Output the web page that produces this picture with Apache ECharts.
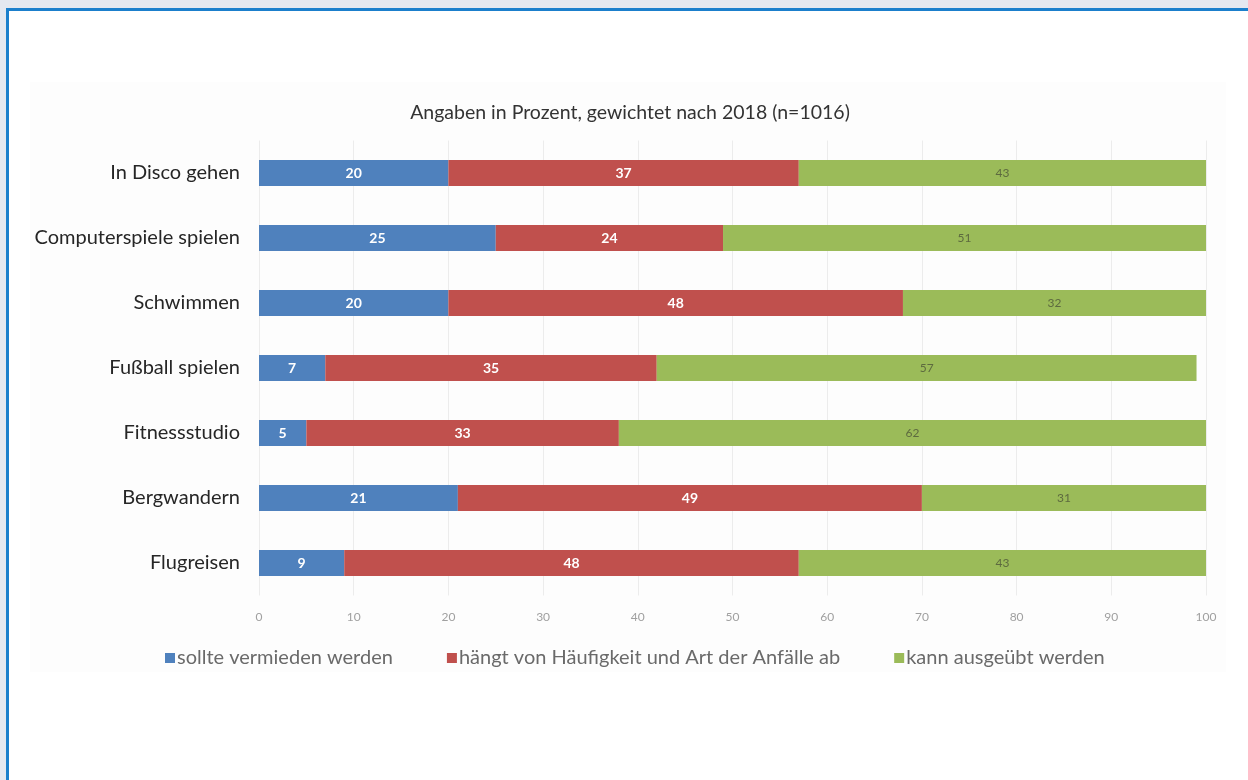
<!DOCTYPE html>
<html>
<head>
<meta charset="utf-8">
<script src="https://cdn.jsdelivr.net/npm/echarts@6/dist/echarts.min.js"></script>
<style>
  html, body { margin: 0; padding: 0; width: 1248px; height: 780px; overflow: hidden; background: #e4e8f0; }
  #panel { position: absolute; left: 6px; top: 8px; width: 1260px; height: 800px; background: #ffffff; border-top: 3px solid #1b7fcc; border-left: 3px solid #1b7fcc; box-sizing: border-box; }
  #chart { position: absolute; left: 0; top: 0; width: 1248px; height: 780px; }
</style>
</head>
<body>
<div id="panel"></div>
<div id="chart"></div>
<script>
const titleText = 'Angaben in Prozent, gewichtet nach 2018 (n=1016)';
const categories = ['In Disco gehen', 'Computerspiele spielen', 'Schwimmen', 'Fußball spielen', 'Fitnessstudio', 'Bergwandern', 'Flugreisen'];
const seriesNames = ['sollte vermieden werden', 'hängt von Häufigkeit und Art der Anfälle ab', 'kann ausgeübt werden'];
const avoid = [20, 25, 20, 7, 5, 21, 9];
const depends = [37, 24, 48, 35, 33, 49, 48];
const allowed = [43, 51, 32, 57, 62, 31, 43];
const xTicks = [0, 10, 20, 30, 40, 50, 60, 70, 80, 90, 100];

const colors = ['#4f81bd', '#c0504d', '#9bbb59'];
const font = 'Lato, "Open Sans", sans-serif';

const chart = echarts.init(document.getElementById('chart'), null, { renderer: 'canvas' });

function mkSeries(name, data, color, labelStyle) {
  return {
    name: name,
    type: 'bar',
    stack: 'total',
    data: data,
    barWidth: 26,
    itemStyle: { color: color },
    label: Object.assign({ show: true, position: 'inside', fontFamily: font }, labelStyle),
    emphasis: { disabled: true }
  };
}

chart.setOption({
  animation: false,
  graphic: [{
    type: 'rect',
    shape: { x: 30, y: 82, width: 1196, height: 590 },
    style: { fill: '#fdfdfd' },
    z: -10
  }],
  title: {
    text: titleText,
    left: 625,
    top: 98,
    textAlign: 'center',
    textStyle: { fontFamily: font, fontSize: 19.5, fontWeight: 'normal', color: '#333333' }
  },
  legend: {
    data: seriesNames,
    left: 160,
    top: 643,
    itemWidth: 10,
    itemHeight: 10,
    itemGap: 54,
    icon: 'rect',
    textStyle: { fontFamily: font, fontSize: 20, color: '#6a6a6a', padding: [0, 0, 0, -3] }
  },
  grid: { left: 259, right: 42, top: 140.5, bottom: 184.5, containLabel: false },
  xAxis: {
    type: 'value',
    min: 0,
    max: 100,
    interval: 10,
    axisLine: { show: false },
    axisTick: { show: false },
    splitLine: { show: true, lineStyle: { color: '#ececec', width: 1 } },
    axisLabel: { fontFamily: font, fontSize: 12, color: '#a0a0a0', margin: 16, formatter: function (v) { return xTicks.indexOf(v) >= 0 ? String(v) : ''; } }
  },
  yAxis: {
    type: 'category',
    data: categories,
    inverse: true,
    axisLine: { show: false },
    axisTick: { show: false },
    splitLine: { show: false },
    axisLabel: { fontFamily: font, fontSize: 20, color: '#262626', margin: 19 }
  },
  series: [
    mkSeries(seriesNames[0], avoid, colors[0], { color: '#ffffff', fontWeight: 'bold', fontSize: 14 }),
    mkSeries(seriesNames[1], depends, colors[1], { color: '#ffffff', fontWeight: 'bold', fontSize: 14 }),
    mkSeries(seriesNames[2], allowed, colors[2], { color: '#5d6a3f', fontWeight: 'normal', fontSize: 12 })
  ]
});
</script>
</body>
</html>
